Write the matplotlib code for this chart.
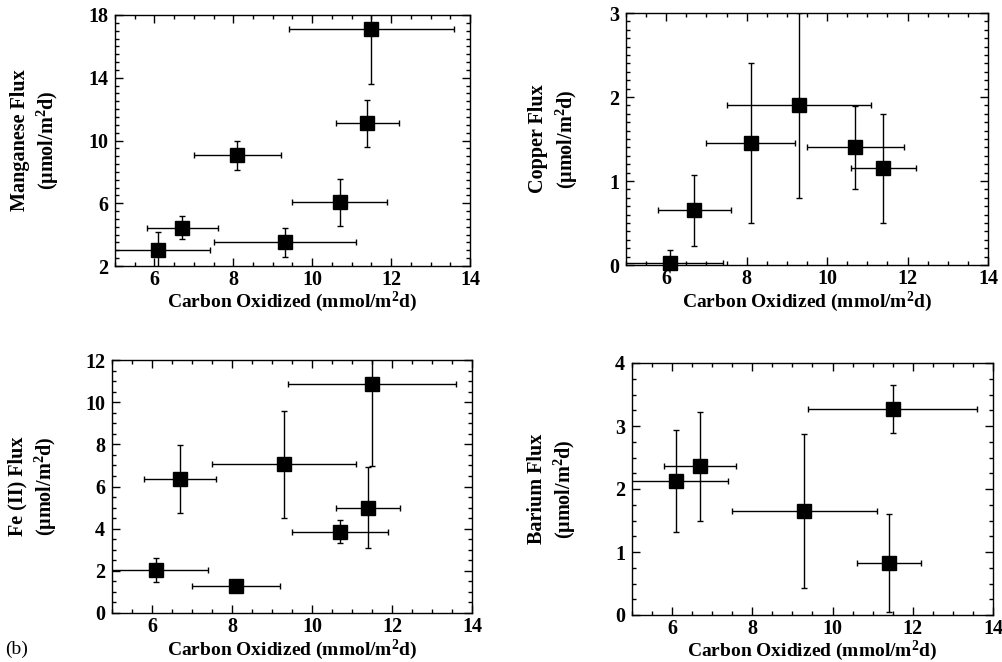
import numpy as np
import matplotlib
matplotlib.use("Agg")
import matplotlib.pyplot as plt
from matplotlib.ticker import MultipleLocator

# ---- data ----
carbon = [6.1, 6.7, 8.1, 9.3, 10.7, 11.4, 11.5]
carbon_err = [1.3, 0.9, 1.1, 1.8, 1.2, 0.8, 2.1]

mn_flux = [3.0, 4.45, 9.05, 3.5, 6.05, 11.1, 17.1]
mn_err = [1.15, 0.75, 0.95, 0.9, 1.5, 1.5, 3.5]

cu_carbon = [6.1, 6.7, 8.1, 9.3, 10.7, 11.4]
cu_carbon_err = [1.3, 0.9, 1.1, 1.8, 1.2, 0.8]
cu_flux = [0.02, 0.65, 1.45, 1.9, 1.4, 1.15]
cu_err = [0.16, 0.42, 0.95, 1.1, 0.49, 0.65]

fe_flux = [2.05, 6.35, 1.27, 7.05, 3.85, 5.0, 10.85]
fe_err = [0.57, 1.62, 0.0, 2.53, 0.55, 1.94, 3.9]

ba_carbon = [6.1, 6.7, 9.3, 11.4, 11.5]
ba_carbon_err = [1.3, 0.9, 1.8, 0.8, 2.1]
ba_flux = [2.13, 2.36, 1.65, 0.83, 3.27]
ba_err = [0.81, 0.87, 1.22, 0.78, 0.38]

xlabel = "Carbon Oxidized (mmol/m$^2$d)"
unit_label = "(\u03bcmol/m$^2$d)"

plt.rcParams['font.family'] = ['Liberation Serif', 'DejaVu Serif']
plt.rcParams['font.weight'] = 'bold'
plt.rcParams['mathtext.fontset'] = 'custom'
plt.rcParams['mathtext.rm'] = 'Liberation Serif:bold'
plt.rcParams['mathtext.it'] = 'Liberation Serif:bold'
plt.rcParams['mathtext.bf'] = 'Liberation Serif:bold'
plt.rcParams['mathtext.default'] = 'rm'

W, H = 1003, 662
fig = plt.figure(figsize=(W / 100, H / 100), dpi=100)


def add_axes(l, r, t, b):
    return fig.add_axes([l / W, 1 - b / H, (r - l) / W, (b - t) / H])


def ylabels(ax, lines, xs):
    pos = ax.get_position()
    yc = (pos.y0 + pos.y1) / 2
    for txt, xp in zip(lines, xs):
        fig.text(xp / W, yc, txt, rotation=90, fontsize=14.5, fontweight='bold',
                 ha='center', va='center')


def setup(ax, x, xe, y, ye, ylim, yticks, yminor, xlab_base):
    ax.errorbar(x, y, xerr=xe, yerr=ye, fmt='none', ecolor='black',
                elinewidth=1.0, capsize=2.5, capthick=1.0)
    ax.plot(x, y, 's', color='black', markersize=9.5, clip_on=False, zorder=5)
    ax.set_xlim(5, 14)
    ax.set_ylim(*ylim)
    ax.set_xticks([6, 8, 10, 12, 14])
    ax.xaxis.set_minor_locator(MultipleLocator(0.5))
    ax.set_yticks(yticks)
    ax.yaxis.set_minor_locator(MultipleLocator(yminor))
    ax.tick_params(which='both', direction='in', top=True, right=True,
                   labelsize=14.5, width=1.0)
    ax.tick_params(which='major', length=6)
    ax.tick_params(axis='x', which='major', pad=3)
    ax.tick_params(axis='y', which='major', pad=5)
    ax.tick_params(which='minor', length=3)
    for lbl in ax.get_xticklabels() + ax.get_yticklabels():
        lbl.set_fontweight('bold')
    for s in ax.spines.values():
        s.set_linewidth(1.0)
    pos = ax.get_position()
    fig.text((pos.x0 + pos.x1) / 2, 1 - xlab_base / H, xlabel, fontsize=14,
             fontweight='bold', ha='center', va='baseline')


ax1 = add_axes(115, 470, 15, 266)
setup(ax1, carbon, carbon_err, mn_flux, mn_err, (2, 18), [2, 6, 10, 14, 18], 0.5, 307)
ylabels(ax1, ["Manganese Flux", unit_label], [20, 48])

ax2 = add_axes(626, 988, 13, 265)
setup(ax2, cu_carbon, cu_carbon_err, cu_flux, cu_err, (0, 3), [0, 1, 2, 3], 0.1, 307)
ylabels(ax2, ["Copper Flux", unit_label], [538, 567])

ax3 = add_axes(112, 472, 360, 613)
setup(ax3, carbon, carbon_err, fe_flux, fe_err, (0, 12), [0, 2, 4, 6, 8, 10, 12], 0.5, 655)
ylabels(ax3, ["Fe (II) Flux", unit_label], [17, 46])

ax4 = add_axes(632, 993, 363, 615)
setup(ax4, ba_carbon, ba_carbon_err, ba_flux, ba_err, (0, 4), [0, 1, 2, 3, 4], 0.25, 656)
ylabels(ax4, ["Barium Flux", unit_label], [537, 565])

fig.text(5 / W, 1 - 654 / H, "(b)", fontsize=14, fontweight='normal',
         ha='left', va='baseline')

fig.savefig("out.png", dpi=100)
